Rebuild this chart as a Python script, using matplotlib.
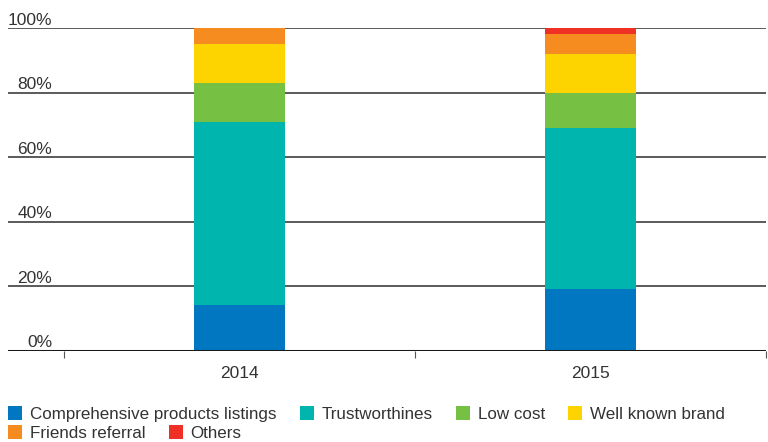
import matplotlib
matplotlib.use("Agg")
import matplotlib.pyplot as plt
from matplotlib import font_manager
from matplotlib.patches import Patch
import numpy as np

years = ["2014", "2015"]
series_names = ["Comprehensive products listings", "Trustworthines", "Low cost",
                "Well known brand", "Friends referral", "Others"]
comprehensive = [14, 19]
trustworthines = [57, 50]
low_cost = [12, 11]
well_known_brand = [12, 12]
friends_referral = [5, 6]
others = [0, 2]
series_values = [comprehensive, trustworthines, low_cost, well_known_brand,
                 friends_referral, others]
colors = ["#0077C0", "#00B5AD", "#76C043", "#FDD300", "#F68B1F", "#EE3124"]
y_ticks = [0, 20, 40, 60, 80, 100]
y_tick_labels = ["0%", "20%", "40%", "60%", "80%", "100%"]

names = {f.name for f in font_manager.fontManager.ttflist}
main_font = "Liberation Sans" if "Liberation Sans" in names else "DejaVu Sans"
text_color = "#333333"

fig = plt.figure(figsize=(7.68, 4.42), dpi=100)
W, H = 768, 442
ax = fig.add_axes([8 / W, 1 - 350.5 / H, 758 / W, (350.5 - 28) / H])

x = np.arange(len(years))
bottom = np.zeros(len(years))
for vals, c in zip(series_values, colors):
    ax.bar(x, vals, width=0.258, bottom=bottom, color=c, zorder=3)
    bottom += np.array(vals)

ax.set_xlim(-0.66, 1.5)
ax.set_ylim(0, 100)

for v in y_ticks[1:]:
    ax.axhline(v, color="#5a5a5a", lw=1.4, zorder=1)
ax.axhline(0, color="#1a1a1a", lw=2.2, zorder=4)

ax.set_yticks([])
for v, lab in zip(y_ticks, y_tick_labels):
    ax.annotate(lab, xy=(44 / 758, v), xycoords=ax.get_yaxis_transform(),
                xytext=(0, 2.5), textcoords="offset points",
                ha="right", va="baseline", fontsize=12.5,
                family=main_font, color=text_color)

ax.set_xticks(x)
ax.set_xticklabels(years, fontsize=12.5, family=main_font, color=text_color)
ax.tick_params(axis="x", which="major", length=0, pad=11)
ax.set_xticks([-0.5, 0.5, 1.5], minor=True)
ax.tick_params(axis="x", which="minor", length=5, width=0.8, color="#555555")

for s in ax.spines.values():
    s.set_visible(False)

# size legend font so the longest label spans about 247 px, as in the reference
renderer = fig.canvas.get_renderer()
probe = fig.text(0, 0, series_names[0], family=main_font, fontsize=10)
pw = probe.get_window_extent(renderer).width
probe.remove()
leg_size = 10 * 247 / pw

handles = [Patch(facecolor=c, edgecolor="none") for c in colors]
px = leg_size * 100 / 72
common = dict(frameon=False, loc="center left", prop={"family": main_font, "size": leg_size},
              handlelength=14 / px, handleheight=14 / px, handletextpad=8 / px,
              columnspacing=23 / px, borderpad=0, borderaxespad=0, labelcolor=text_color)
leg1 = fig.legend(handles[:4], series_names[:4], ncol=4,
                  bbox_to_anchor=(8 / W, 1 - 414 / H), **common)
leg2 = fig.legend(handles[4:], series_names[4:], ncol=2,
                  bbox_to_anchor=(8 / W, 1 - 433 / H), **common)

fig.savefig("out.png", dpi=100)
